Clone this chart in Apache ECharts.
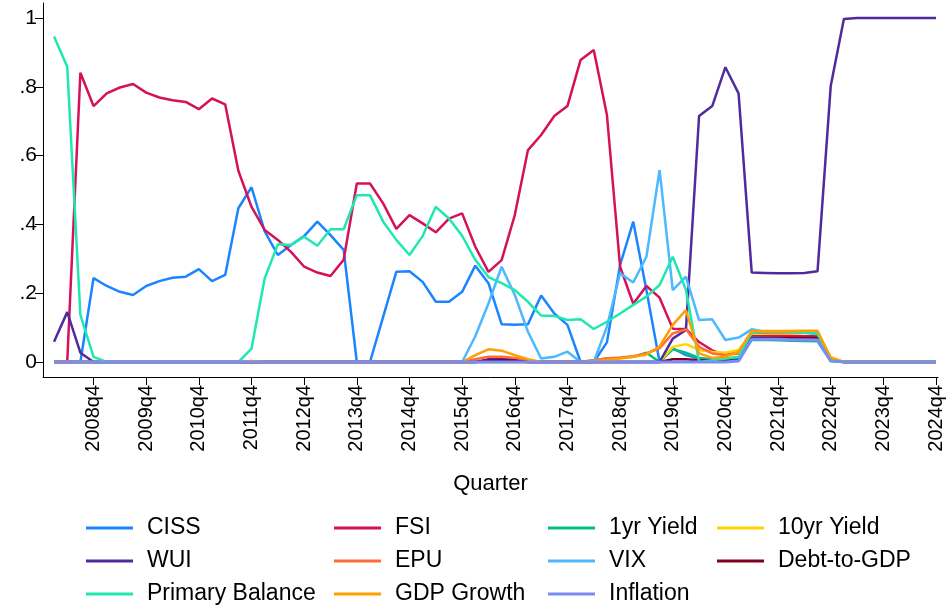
<!DOCTYPE html>
<html>
<head>
<meta charset="utf-8">
<title>Stress indicators by quarter</title>
<script src="https://cdn.jsdelivr.net/npm/echarts@6/dist/echarts.min.js"></script>
<style>
  html, body { margin: 0; padding: 0; background: #fff; }
  #chart { width: 948px; height: 610px; }
</style>
</head>
<body>
<div id="chart"></div>
<script>
/* global echarts */

// quarters 2008q1 .. 2024q4
const quarters = [];
for (let y = 2008; y <= 2024; y++) {
  for (let q = 1; q <= 4; q++) quarters.push(`${y}q${q}`);
}

const tickLabels = [
  "2008q4", "2009q4", "2010q4", "2011q4", "2012q4", "2013q4", "2014q4", "2015q4", "2016q4",
  "2017q4", "2018q4", "2019q4", "2020q4", "2021q4", "2022q4", "2023q4", "2024q4",
];
const yTicks = [0, 0.2, 0.4, 0.6, 0.8, 1];

const ciss = [
  0, 0, 0, 0.244, 0.221, 0.204, 0.195, 0.221, 0.235, 0.245, 0.248, 0.27, 0.235, 0.253, 0.447, 0.508,
  0.38, 0.311, 0.34, 0.366, 0.408, 0.369, 0.326, 0, 0, 0.131, 0.262, 0.264, 0.233, 0.175, 0.175, 0.204,
  0.28, 0.229, 0.11, 0.108, 0.11, 0.193, 0.141, 0.108, 0, 0, 0.057, 0.282, 0.408, 0.209, 0, 0.04,
  0.02, 0.01, 0.005, 0.005, 0.01, 0.075, 0.074, 0.073, 0.072, 0.071, 0.07, 0.01, 0, 0, 0, 0,
  0, 0, 0, 0,
];
const fsi = [
  0, 0, 0.841, 0.744, 0.781, 0.798, 0.808, 0.783, 0.769, 0.761, 0.756, 0.735, 0.766, 0.749, 0.556, 0.451,
  0.384, 0.355, 0.32, 0.277, 0.26, 0.25, 0.297, 0.519, 0.519, 0.461, 0.387, 0.427, 0.403, 0.377, 0.417, 0.432,
  0.335, 0.262, 0.296, 0.427, 0.616, 0.66, 0.715, 0.744, 0.878, 0.907, 0.718, 0.277, 0.169, 0.221, 0.187, 0.097,
  0.096, 0.058, 0.034, 0.02, 0.03, 0.08, 0.078, 0.077, 0.076, 0.075, 0.075, 0.01, 0, 0, 0, 0,
  0, 0, 0, 0,
];
const yield1 = [
  0, 0, 0, 0, 0, 0, 0, 0, 0, 0, 0, 0, 0, 0, 0, 0,
  0, 0, 0, 0, 0, 0, 0, 0, 0, 0, 0, 0, 0, 0, 0, 0,
  0, 0, 0, 0, 0, 0, 0, 0, 0, 0.005, 0.01, 0.012, 0.015, 0.027, 0, 0.037,
  0.027, 0.012, 0.008, 0.005, 0.005, 0.065, 0.064, 0.063, 0.062, 0.061, 0.06, 0.002, 0, 0, 0, 0,
  0, 0, 0, 0,
];
const yield10 = [
  0, 0, 0, 0, 0, 0, 0, 0, 0, 0, 0, 0, 0, 0, 0, 0,
  0, 0, 0, 0, 0, 0, 0, 0, 0, 0, 0, 0, 0, 0, 0, 0,
  0, 0, 0, 0, 0, 0, 0, 0, 0, 0, 0, 0, 0, 0, 0, 0.044,
  0.052, 0.035, 0.03, 0.027, 0.035, 0.082, 0.082, 0.083, 0.083, 0.084, 0.084, 0.015, 0, 0, 0, 0,
  0, 0, 0, 0,
];
const wui = [
  0.059, 0.145, 0.027, 0, 0, 0, 0, 0, 0, 0, 0, 0, 0, 0, 0, 0,
  0, 0, 0, 0, 0, 0, 0, 0, 0, 0, 0, 0, 0, 0, 0, 0,
  0, 0.008, 0.01, 0.006, 0, 0, 0, 0, 0, 0, 0, 0, 0, 0, 0, 0.068,
  0.093, 0.715, 0.744, 0.857, 0.781, 0.26, 0.259, 0.258, 0.258, 0.259, 0.264, 0.802, 0.997, 1, 1, 1,
  1, 1, 1, 1,
];
const epu = [
  0, 0, 0, 0, 0, 0, 0, 0, 0, 0, 0, 0, 0, 0, 0, 0,
  0, 0, 0, 0, 0, 0, 0, 0, 0, 0, 0, 0, 0, 0, 0, 0,
  0.008, 0.015, 0.015, 0.012, 0.005, 0, 0, 0, 0, 0.005, 0.01, 0.013, 0.017, 0.025, 0.04, 0.083,
  0.095, 0.044, 0.025, 0.02, 0.025, 0.085, 0.085, 0.086, 0.086, 0.087, 0.087, 0.008, 0, 0, 0, 0,
  0, 0, 0, 0,
];
const vix = [
  0, 0, 0, 0, 0, 0, 0, 0, 0, 0, 0, 0, 0, 0, 0, 0,
  0, 0, 0, 0, 0, 0, 0, 0, 0, 0, 0, 0, 0, 0, 0, 0,
  0.075, 0.17, 0.277, 0.195, 0.088, 0.01, 0.015, 0.03, 0, 0, 0.103, 0.258, 0.231, 0.306, 0.558, 0.209,
  0.248, 0.122, 0.124, 0.064, 0.071, 0.095, 0.088, 0.088, 0.087, 0.086, 0.081, 0.006, 0, 0, 0, 0,
  0, 0, 0, 0,
];
const debtGdp = [
  0, 0, 0, 0, 0, 0, 0, 0, 0, 0, 0, 0, 0, 0, 0, 0,
  0, 0, 0, 0, 0, 0, 0, 0, 0, 0, 0, 0, 0, 0, 0, 0,
  0, 0.004, 0.005, 0.004, 0, 0, 0, 0, 0, 0, 0, 0, 0, 0, 0, 0.008,
  0.008, 0.005, 0.004, 0.004, 0.005, 0.07, 0.07, 0.07, 0.07, 0.07, 0.07, 0.005, 0, 0, 0, 0,
  0, 0, 0, 0,
];
const primaryBalance = [
  0.946, 0.858, 0.137, 0.015, 0, 0, 0, 0, 0, 0, 0, 0, 0, 0, 0, 0.039,
  0.243, 0.342, 0.34, 0.364, 0.338, 0.386, 0.386, 0.485, 0.485, 0.408, 0.355, 0.311, 0.366, 0.451, 0.417, 0.367,
  0.297, 0.247, 0.229, 0.209, 0.175, 0.135, 0.134, 0.122, 0.124, 0.096, 0.117, 0.141, 0.166, 0.19, 0.224, 0.306,
  0.21, 0, 0.005, 0.01, 0.015, 0.085, 0.088, 0.089, 0.088, 0.085, 0.082, 0.005, 0, 0, 0, 0,
  0, 0, 0, 0,
];
const gdpGrowth = [
  0, 0, 0, 0, 0, 0, 0, 0, 0, 0, 0, 0, 0, 0, 0, 0.003,
  0, 0, 0, 0, 0, 0, 0, 0, 0, 0, 0, 0, 0, 0, 0, 0,
  0.02, 0.037, 0.033, 0.02, 0.008, 0, 0, 0, 0, 0.003, 0.006, 0.01, 0.015, 0.022, 0.045, 0.108,
  0.151, 0.025, 0.012, 0.015, 0.03, 0.09, 0.09, 0.09, 0.09, 0.091, 0.091, 0.012, 0, 0, 0, 0,
  0, 0, 0, 0,
];
const inflation = [
  0, 0, 0, 0, 0, 0, 0, 0, 0, 0, 0, 0, 0, 0, 0, 0,
  0, 0, 0, 0, 0, 0, 0, 0, 0, 0, 0, 0, 0, 0, 0, 0,
  0, 0, 0, 0, 0, 0, 0, 0, 0, 0, 0, 0, 0, 0, 0, 0,
  0, 0, 0, 0, 0.003, 0.066, 0.066, 0.066, 0.065, 0.065, 0.064, 0.004, 0, 0, 0, 0,
  0, 0, 0, 0,
];

const seriesDefs = [
  { name: "CISS", data: ciss, color: "#1a85ff" },
  { name: "FSI", data: fsi, color: "#d41159" },
  { name: "1yr Yield", data: yield1, color: "#00bf7f" },
  { name: "10yr Yield", data: yield10, color: "#ffd400" },
  { name: "WUI", data: wui, color: "#4f2b9e" },
  { name: "EPU", data: epu, color: "#ff6c3c" },
  { name: "VIX", data: vix, color: "#4cb8ff" },
  { name: "Debt-to-GDP", data: debtGdp, color: "#800020" },
  { name: "Primary Balance", data: primaryBalance, color: "#1ee8b0" },
  { name: "GDP Growth", data: gdpGrowth, color: "#ffa000" },
  { name: "Inflation", data: inflation, color: "#7a8cf5" },
];

const FONT = "Liberation Sans, Arial, sans-serif";
const tickPos = tickLabels.map((t) => quarters.indexOf(t));

// legend laid out 4 per row like the stata key
const legendCols = [86, 334, 548, 717];
const legendRows = [516, 549, 582];

function legendItem(name, idx) {
  return {
    left: legendCols[idx % 4],
    top: legendRows[Math.floor(idx / 4)],
    data: [name],
    icon: "rect",
    itemWidth: 47,
    itemHeight: 3,
    selectedMode: false,
    padding: 0,
    textStyle: {
      fontFamily: FONT,
      fontSize: 23,
      lineHeight: 24,
      color: "#000",
      padding: [0, 0, 0, 9],
    },
  };
}

const chart = echarts.init(document.getElementById("chart"), null, { renderer: "canvas" });

chart.setOption({
  animation: false,
  backgroundColor: "#fff",
  grid: { left: 43, right: 10, top: 3, bottom: 233 },
  legend: seriesDefs.map((s, i) => legendItem(s.name, i)),
  xAxis: {
    type: "value",
    min: -0.84,
    max: 67.15,
    name: "Quarter",
    nameLocation: "middle",
    nameGap: 96,
    nameTextStyle: { fontFamily: FONT, fontSize: 22, color: "#000" },
    axisLine: { show: true, onZero: false, lineStyle: { color: "#000", width: 1 } },
    axisTick: { show: true, length: 8, customValues: tickPos, lineStyle: { color: "#000" } },
    axisLabel: {
      customValues: tickPos,
      rotate: 90,
      margin: 8,
      fontFamily: FONT,
      fontSize: 20,
      color: "#000",
      formatter: (v) => quarters[Math.round(v)] || "",
    },
    splitLine: { show: false },
  },
  yAxis: {
    type: "value",
    min: -0.0436,
    max: 1.0436,
    axisLine: { show: true, onZero: false, lineStyle: { color: "#000", width: 1 } },
    axisTick: { show: true, length: 8, customValues: yTicks, lineStyle: { color: "#000" } },
    axisLabel: {
      customValues: yTicks,
      margin: 6,
      fontFamily: FONT,
      fontSize: 21,
      color: "#000",
      formatter: (v) => (v === 0 ? "0" : v === 1 ? "1" : String(v).replace("0.", ".")),
    },
    splitLine: { show: false },
  },
  series: seriesDefs.map((s) => ({
    name: s.name,
    type: "line",
    symbol: "none",
    color: s.color,
    lineStyle: { width: s.name === "Inflation" ? 3 : 2.5, color: s.color },
    data: s.data.map((v, i) => [i, v]),
  })),
});
</script>
</body>
</html>
